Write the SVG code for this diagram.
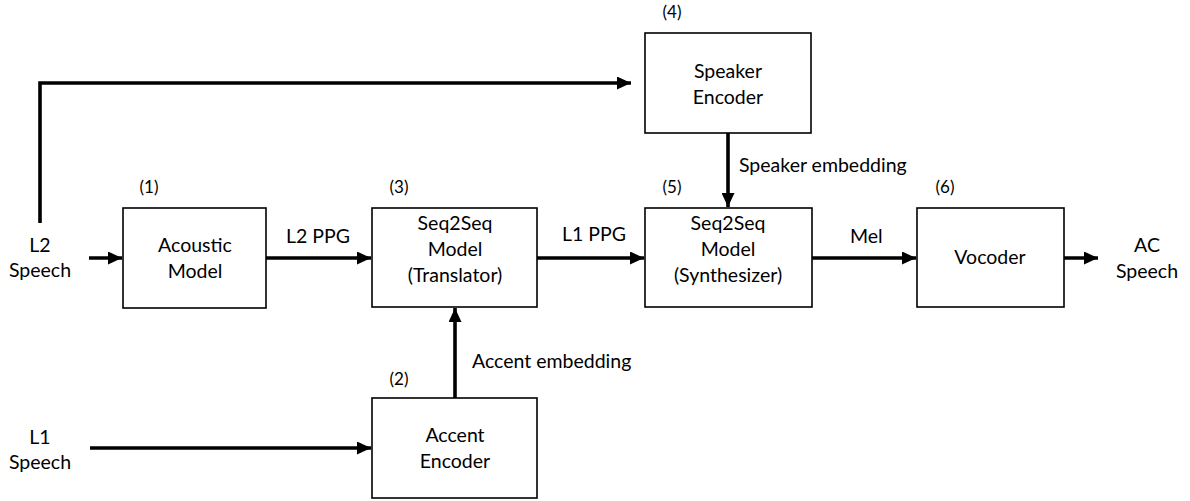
<svg xmlns="http://www.w3.org/2000/svg" width="1190" height="501" viewBox="0 0 1190 501">
  <style>
    .box { fill: #ffffff; stroke: #000000; stroke-width: 1.6; }
    .wire { fill: none; stroke: #000000; stroke-width: 3.6; }
    text { font-family: Lato, "Liberation Sans", sans-serif; font-size: 19.5px; fill: #000000; text-anchor: middle; }
    .tag { font-size: 17px; }
    .lbl { text-anchor: start; }
  </style>
  <defs>
    <marker id="arrow" markerUnits="userSpaceOnUse" markerWidth="15" markerHeight="13" refX="14" refY="6.5" orient="auto">
      <path d="M0,0 L14,6.5 L0,13 Z" fill="#000000"/>
    </marker>
  </defs>

  <!-- connectors -->
  <g id="connectors">
    <path class="wire" d="M40,223 V83 H631" marker-end="url(#arrow)"/>
    <path class="wire" d="M89,258 H122" marker-end="url(#arrow)"/>
    <path class="wire" d="M266,258 H371" marker-end="url(#arrow)"/>
    <path class="wire" d="M90,448 H371" marker-end="url(#arrow)"/>
    <path class="wire" d="M455,398 V308" marker-end="url(#arrow)"/>
    <path class="wire" d="M537,258 H644" marker-end="url(#arrow)"/>
    <path class="wire" d="M728,133 V207" marker-end="url(#arrow)"/>
    <path class="wire" d="M812,258 H916" marker-end="url(#arrow)"/>
    <path class="wire" d="M1064,258 H1098" marker-end="url(#arrow)"/>
    <text class="lbl" x="286" y="243">L2 PPG</text>
    <text class="lbl" x="562" y="241">L1 PPG</text>
    <text class="lbl" x="472" y="368">Accent embedding</text>
    <text class="lbl" x="739" y="172">Speaker embedding</text>
    <text class="lbl" x="850" y="243">Mel</text>
  </g>

  <!-- inputs and output -->
  <g id="in-l2">
    <text x="40" y="252">L2</text>
    <text x="40" y="277">Speech</text>
  </g>
  <g id="in-l1">
    <text x="40" y="444">L1</text>
    <text x="40" y="469">Speech</text>
  </g>
  <g id="out-ac">
    <text x="1147" y="252">AC</text>
    <text x="1147" y="278">Speech</text>
  </g>

  <!-- (1) acoustic model -->
  <g id="acoustic-model">
    <text class="tag" x="149" y="193">(1)</text>
    <rect class="box" x="123" y="208" width="143" height="100"/>
    <text x="195" y="252">Acoustic</text>
    <text x="195" y="278">Model</text>
  </g>

  <!-- (2) accent encoder -->
  <g id="accent-encoder">
    <text class="tag" x="399" y="385">(2)</text>
    <rect class="box" x="372" y="398" width="165" height="100"/>
    <text x="455" y="442">Accent</text>
    <text x="455" y="468">Encoder</text>
  </g>

  <!-- (3) translator -->
  <g id="translator">
    <text class="tag" x="399" y="193">(3)</text>
    <rect class="box" x="372" y="208" width="165" height="99"/>
    <text x="455" y="230">Seq2Seq</text>
    <text x="455" y="256">Model</text>
    <text x="455" y="282">(Translator)</text>
  </g>

  <!-- (4) speaker encoder -->
  <g id="speaker-encoder">
    <text class="tag" x="672" y="18">(4)</text>
    <rect class="box" x="645" y="33" width="166" height="100"/>
    <text x="728" y="78">Speaker</text>
    <text x="728" y="104">Encoder</text>
  </g>

  <!-- (5) synthesizer -->
  <g id="synthesizer">
    <text class="tag" x="672" y="193">(5)</text>
    <rect class="box" x="645" y="208" width="167" height="99"/>
    <text x="728" y="230">Seq2Seq</text>
    <text x="728" y="256">Model</text>
    <text x="728" y="282">(Synthesizer)</text>
  </g>

  <!-- (6) vocoder -->
  <g id="vocoder">
    <text class="tag" x="945" y="193">(6)</text>
    <rect class="box" x="917" y="208" width="147" height="99"/>
    <text x="990" y="264">Vocoder</text>
  </g>
</svg>
